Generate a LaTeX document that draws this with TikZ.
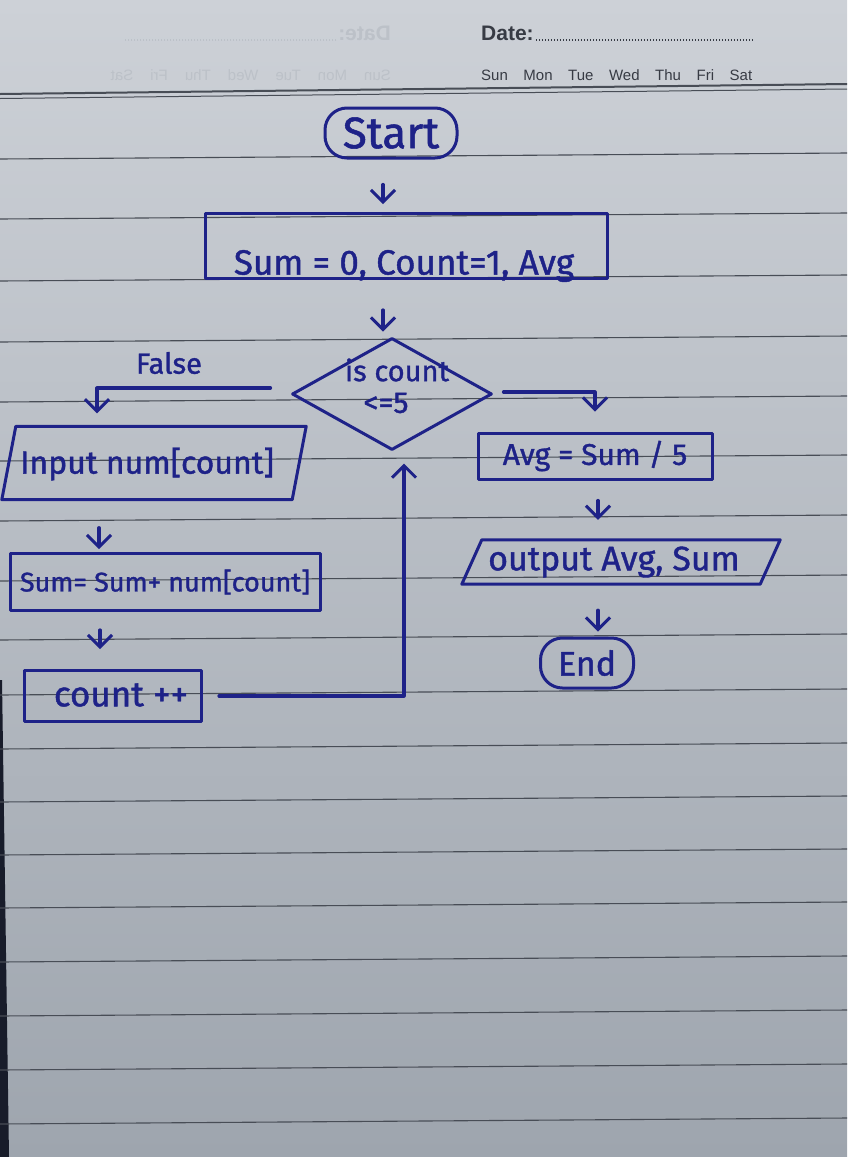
\documentclass[tikz,border=0pt]{standalone}
\usepackage{fontspec}
\setmainfont{Fira Sans}[FakeBold=1.2]
\newfontfamily\hdr{Liberation Sans}
\usetikzlibrary{arrows.meta,calc,shapes.geometric}
\definecolor{ink}{RGB}{30,34,136}
\definecolor{paperT}{RGB}{205,209,215}
\definecolor{paperM}{RGB}{186,191,198}
\definecolor{paperB}{RGB}{158,165,174}
\definecolor{rulec}{RGB}{72,77,86}
\definecolor{hdrc}{RGB}{55,59,68}
\definecolor{ghost}{RGB}{188,193,200}
\definecolor{edgec}{RGB}{24,28,42}
\begin{document}
\begin{tikzpicture}[x=1pt,y=-1pt,
  inkline/.style={draw=ink, line width=3pt, line join=round, line cap=round},
  hbox/.style={inkline, rectangle, inner sep=0pt, text=ink},
  hnode/.style={inner sep=0pt, text=ink},
  arr/.style={draw=ink, line width=3.2pt, line cap=round, line join=round, -{Straight Barb[length=12pt,width=24pt,line width=3pt]}},
  rulel/.style={draw=rulec, line width=1.1pt},
  dots/.style={line width=1.6pt, dash pattern=on 1.3pt off 1.7pt}
]
\useasboundingbox (0,0) rectangle (847,1157);
% paper
\shade[top color=paperT, middle color=paperM, bottom color=paperB] (0,0) rectangle (847,1157);
\fill[edgec] (0,680) -- (2,680) -- (9,1157) -- (0,1157) -- cycle;
% ruled lines
\draw[draw=rulec, line width=2pt] (0,94) -- (847,84);
\draw[draw=rulec, line width=1pt] (0,98.5) -- (847,89);
\foreach \yy in {156,216,278,339,399,458,518,578,637,692,746,799,852,905,959,1013,1067,1121}
  \draw[rulel] (0,{\yy+3}) -- (847,{\yy-3});
% header
\node[font=\hdr\bfseries\fontsize{21}{21}\selectfont, text=hdrc, anchor=base west, inner sep=0pt] (date) at (481,40) {Date:};
\draw[draw=hdrc, dots] ([xshift=2pt]date.base east) -- ++(218,0);
\node[font=\hdr\fontsize{15}{15}\selectfont, text=hdrc, anchor=base west, inner sep=0pt] (days) at (481,80) {\makebox[271pt][s]{Sun Mon Tue Wed Thu Fri Sat}};
% show-through of the other side
\node[font=\hdr\bfseries\fontsize{21}{21}\selectfont, text=ghost, anchor=base east, inner sep=0pt] (gdate) at (391,40) {\reflectbox{Date:}};
\draw[draw=ghost, dots] ([xshift=-2pt]gdate.base west) -- ++(-212,0);
\node[font=\hdr\fontsize{15}{15}\selectfont, text=ghost, anchor=base east, inner sep=0pt] (gdays) at (391,80) {\reflectbox{\makebox[280pt][s]{Sun Mon Tue Wed Thu Fri Sat}}};

% flowchart nodes
\node[hbox, rounded corners=22pt, minimum width=132pt, minimum height=50pt, font=\fontsize{44}{44}\selectfont] (start) at (391,133) {Start};
\node[hbox, minimum width=402pt, minimum height=65pt] (init) at (406,246) {};
\node[hnode, font=\fontsize{35}{35}\selectfont] (initt) at (404,266) {Sum = 0, Count=1, Avg};
\node[inkline, diamond, minimum width=200pt, minimum height=112pt, inner sep=0pt] (dec) at (392,394) {};
\node[hnode, font=\fontsize{29}{29}\selectfont] (dect1) at (397,370) {is count};
\node[hnode, font=\fontsize{30}{30}\selectfont] (dect2) at (386,403) {<=5};
\node[hnode, font=\fontsize{29}{29}\selectfont] (falsel) at (169,363) {False};
\node[hnode, minimum width=290pt, minimum height=73pt] (inp) at (154,463) {};
\node[hnode, font=\fontsize{32}{32}\selectfont] (inpt) at (147,464) {Input num[count]};
\draw[inkline] ([xshift=7pt]inp.north west) -- ([xshift=7pt]inp.north east) -- ([xshift=-7pt]inp.south east) -- ([xshift=-7pt]inp.south west) -- cycle;
\node[hbox, minimum width=310pt, minimum height=57pt, font=\fontsize{27}{27}\selectfont] (sum) at (165,582) {Sum= Sum+ num[count]};
\node[hbox, minimum width=177pt, minimum height=51pt] (cnt) at (113,696) {};
\node[hnode, font=\fontsize{35}{35}\selectfont] (cntt) at (121,695) {count ++};
\node[hbox, minimum width=234pt, minimum height=46pt, font=\fontsize{30}{30}\selectfont] (avg) at (595,456) {Avg = Sum / 5};
\node[hnode, minimum width=298pt, minimum height=44pt] (out) at (621,562) {};
\node[hnode, font=\fontsize{34}{34}\selectfont] (outt) at (614,562) {output Avg, Sum};
\draw[inkline] ([xshift=10pt]out.north west) -- ([xshift=10pt]out.north east) -- ([xshift=-10pt]out.south east) -- ([xshift=-10pt]out.south west) -- cycle;
\node[hbox, rounded corners=22pt, minimum width=93pt, minimum height=50pt, font=\fontsize{34}{34}\selectfont] (end) at (587,663) {End};

% connectors
\draw[arr, shorten <=25pt, shorten >=8pt] ([xshift=-8pt]start.south) -- ([xshift=-8pt]start.south |- init.north);
\draw[arr, shorten <=30pt, shorten >=5pt] ([xshift=-9pt]init.south -| dec.north) -- ([xshift=-9pt]dec.north);
\draw[arr, shorten <=20pt, shorten >=13pt] ([yshift=6pt]dec.west) -| ([xshift=-57pt]inp.north);
\draw[arr, shorten <=10pt, shorten >=20pt] ([yshift=2pt]dec.east) -| (avg.north);
\draw[arr, shorten <=28pt, shorten >=3pt] ([xshift=-55pt]inp.south) -- ([xshift=-55pt]inp.south |- sum.north);
\draw[arr, shorten <=18pt, shorten >=20pt] ([xshift=-13pt]cnt.north |- sum.south) -- ([xshift=-13pt]cnt.north);
\draw[arr, shorten <=16pt, shorten >=12pt] (cnt.east) -| ([xshift=12pt]dec.south);
\draw[arr, shorten <=20pt, shorten >=20pt] ([xshift=3pt]avg.south) -- ([xshift=3pt]avg.south |- out.north);
\draw[arr, shorten <=26pt, shorten >=5pt] ([xshift=11pt]out.south -| end.north) -- ([xshift=11pt]end.north);
\end{tikzpicture}
\end{document}
